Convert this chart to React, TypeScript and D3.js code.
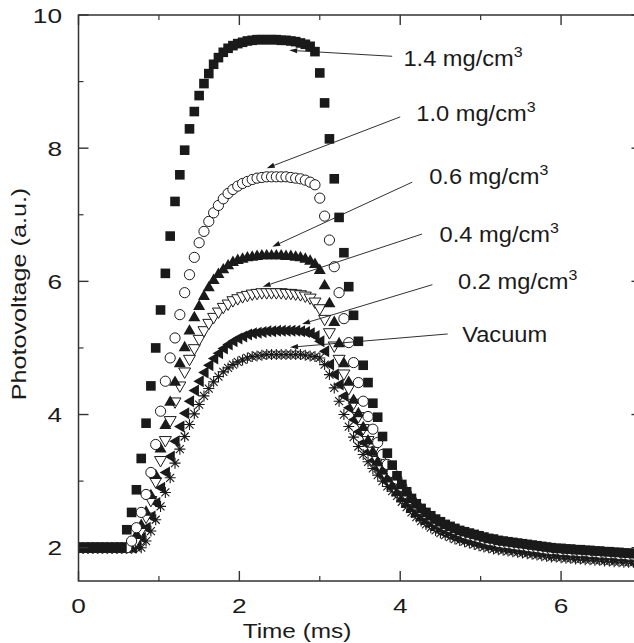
import React from 'react';
import * as d3 from 'd3';

// sampling interval of the recorded traces (ms)
const DT = 0.06;

const vacuum = [2,2,2,2,2,2,2,2,2,2,2,2,2,2,
2.1,2.25,2.42,2.62,2.83,3.05,
3.27,3.48,3.67,3.85,4.01,4.15,4.28,4.39,4.49,4.57,
4.64,4.7,4.75,4.79,4.82,4.85,4.87,4.88,4.89,4.9,
4.9,4.9,4.9,4.9,4.9,4.9,4.9,4.89,4.88,4.87,
4.85,4.75,4.6,4.4,4.2,4.0,3.82,3.66,3.52,3.4,
3.29,3.19,3.09,3.0,2.92,2.85,2.78,2.69,2.61,2.53,
2.46,2.4,2.35,2.3,2.26,2.22,2.19,2.16,2.13,2.11,
2.09,2.07,2.05,2.03,2.01,2.0,1.98,1.97,1.96,1.95,
1.94,1.93,1.92,1.91,1.9,1.89,1.88,1.87,1.86,1.86,
1.85,1.84,1.84,1.83,1.83,1.82,1.82,1.81,1.81,1.8,
1.8,1.79,1.79,1.78,1.78,1.78,1.77];

const dens02 = [2,2,2,2,2,2,2,2,2,2,2,2,
2.05,2.15,2.3,2.47,2.67,2.9,3.13,3.37,
3.6,3.82,4.02,4.2,4.36,4.5,4.63,4.74,4.84,4.92,
4.99,5.05,5.1,5.14,5.17,5.2,5.22,5.23,5.24,5.25,
5.25,5.26,5.26,5.26,5.26,5.26,5.25,5.24,5.22,5.18,
5.1,4.95,4.75,4.6,4.45,4.28,4.1,3.92,3.74,3.58,
3.44,3.31,3.19,3.08,2.98,2.89,2.8,2.71,2.63,2.56,
2.49,2.43,2.38,2.33,2.29,2.25,2.22,2.19,2.16,2.14,
2.12,2.1,2.08,2.06,2.05,2.03,2.02,2.01,2.0,1.99,
1.98,1.97,1.96,1.95,1.94,1.93,1.92,1.91,1.91,1.9,
1.89,1.89,1.88,1.88,1.87,1.87,1.86,1.86,1.85,1.85,
1.84,1.84,1.83,1.83,1.82,1.82,1.81];

const dens04 = [2,2,2,2,2,2,2,2,2,2,2,2,
2.1,2.25,2.45,2.7,2.98,3.3,3.6,3.9,
4.18,4.42,4.63,4.82,4.98,5.12,5.25,5.36,5.45,5.53,
5.6,5.65,5.7,5.73,5.76,5.78,5.8,5.81,5.82,5.82,
5.82,5.82,5.82,5.81,5.81,5.8,5.79,5.77,5.74,5.68,
5.58,5.42,5.22,5.02,4.82,4.6,4.38,4.16,3.96,3.78,
3.6,3.44,3.3,3.16,3.04,2.93,2.83,2.74,2.66,2.59,
2.52,2.46,2.41,2.36,2.32,2.28,2.25,2.22,2.2,2.18,
2.16,2.14,2.12,2.1,2.08,2.07,2.05,2.04,2.03,2.02,
2.01,2.0,1.99,1.98,1.97,1.96,1.95,1.94,1.94,1.93,
1.92,1.92,1.91,1.91,1.9,1.9,1.89,1.89,1.88,1.88,
1.87,1.87,1.86,1.86,1.85,1.85,1.84];

const dens06 = [2,2,2,2,2,2,2,2,2,2,2,2,
2.2,2.35,2.55,2.8,3.1,3.5,3.85,4.2,
4.5,4.78,5.02,5.27,5.47,5.64,5.79,5.92,6.03,6.12,
6.19,6.25,6.3,6.33,6.35,6.37,6.38,6.39,6.4,6.4,
6.4,6.4,6.4,6.39,6.39,6.38,6.37,6.35,6.32,6.27,
6.18,5.95,5.68,5.4,5.08,4.78,4.5,4.23,4.03,3.82,
3.62,3.45,3.3,3.17,3.05,2.94,2.84,2.75,2.67,2.6,
2.53,2.47,2.42,2.38,2.34,2.3,2.27,2.24,2.21,2.19,
2.17,2.15,2.13,2.11,2.09,2.08,2.06,2.05,2.04,2.03,
2.02,2.01,2.0,1.99,1.98,1.97,1.96,1.95,1.95,1.94,
1.93,1.93,1.92,1.92,1.91,1.91,1.9,1.9,1.89,1.89,
1.88,1.88,1.87,1.87,1.86,1.86,1.85];

const dens10 = [2,2,2,2,2,2,2,2,2,2,2,
2.1,2.3,2.53,2.8,3.13,3.55,4.05,4.5,4.85,
5.15,5.5,5.83,6.1,6.36,6.58,6.75,6.9,7.03,7.14,
7.24,7.32,7.38,7.43,7.47,7.5,7.53,7.55,7.56,7.57,
7.57,7.57,7.57,7.57,7.56,7.55,7.54,7.52,7.49,7.45,
7.25,6.98,6.62,6.22,5.83,5.44,5.08,4.78,4.48,4.2,
3.97,3.78,3.58,3.4,3.25,3.13,3.03,2.92,2.81,2.72,
2.64,2.57,2.51,2.46,2.41,2.37,2.33,2.3,2.27,2.24,
2.21,2.19,2.17,2.15,2.13,2.11,2.1,2.08,2.07,2.06,
2.05,2.04,2.03,2.02,2.01,2.0,1.99,1.98,1.97,1.97,
1.96,1.96,1.95,1.95,1.94,1.94,1.93,1.93,1.92,1.92,
1.91,1.91,1.9,1.9,1.89,1.89,1.88];

const dens14 = [2,2,2,2,2,2,2,2,2,2,
2.27,2.53,2.87,3.34,3.87,4.43,5.0,5.57,6.12,6.68,
7.2,7.6,7.97,8.29,8.55,8.79,8.97,9.12,9.26,9.36,
9.44,9.5,9.54,9.57,9.59,9.61,9.62,9.63,9.63,9.63,
9.63,9.63,9.62,9.62,9.61,9.6,9.58,9.56,9.53,9.45,
9.13,8.68,8.14,7.54,6.96,6.43,5.92,5.49,5.1,4.74,
4.48,4.17,3.96,3.67,3.42,3.24,3.08,2.95,2.84,2.74,
2.66,2.59,2.53,2.48,2.43,2.39,2.35,2.32,2.29,2.26,
2.24,2.22,2.2,2.18,2.16,2.14,2.13,2.11,2.1,2.09,
2.08,2.07,2.06,2.05,2.04,2.03,2.02,2.01,2.0,1.99,
1.99,1.98,1.98,1.97,1.97,1.96,1.96,1.95,1.95,1.94,
1.94,1.93,1.93,1.92,1.92,1.91,1.91];

const xMajor = [0, 2, 4, 6];
const xMinor = [1, 3, 5];
const yMajor = [2, 4, 6, 8, 10];
const yMinor = [3, 5, 7, 9];

const annLabels = ['1.4 mg/cm', '1.0 mg/cm', '0.6 mg/cm', '0.4 mg/cm', '0.2 mg/cm', 'Vacuum'];
const annSup = ['3', '3', '3', '3', '3', ''];
const annText = [[4.04, 9.23], [4.2, 8.41], [4.36, 7.46], [4.49, 6.59], [4.72, 5.89], [4.77, 5.09]];
const annStart = [[3.9, 9.38], [4.0, 8.47], [4.15, 7.49], [4.27, 6.71], [4.4, 5.95], [4.59, 5.21]];
const annTip = [[2.62, 9.47], [2.34, 7.7], [2.41, 6.52], [2.29, 5.92], [2.78, 5.36], [2.63, 5.01]];

const FONT = "'Liberation Sans', Arial, Helvetica, sans-serif";
const INK = '#1a1a1a';

type Shape = 'star' | 'left' | 'down' | 'up' | 'circle' | 'square';
const series: { values: number[]; shape: Shape }[] = [
  { values: vacuum, shape: 'star' },
  { values: dens02, shape: 'left' },
  { values: dens04, shape: 'down' },
  { values: dens06, shape: 'up' },
  { values: dens10, shape: 'circle' },
  { values: dens14, shape: 'square' },
];

function Marker({ shape, cx, cy }: { shape: Shape; cx: number; cy: number }) {
  const t = `translate(${cx},${cy})`;
  switch (shape) {
    case 'square':
      return <rect x={cx - 4.8} y={cy - 4.8} width={9.6} height={9.6} fill={INK} />;
    case 'circle':
      return <circle cx={cx} cy={cy} r={5.1} fill="#fff" stroke={INK} strokeWidth={1} />;
    case 'up':
      return <path transform={t} d="M0,-5.8L6,4.6L-6,4.6Z" fill={INK} />;
    case 'down':
      return <path transform={t} d="M0,5.8L6,-4.6L-6,-4.6Z" fill="#fff" stroke={INK} strokeWidth={1} />;
    case 'left':
      return <path transform={t} d="M-5.8,0L4.6,-6L4.6,6Z" fill={INK} />;
    default:
      return (
        <path transform={t} d="M-5.5,0H5.5M0,-5.5V5.5M-4,-4L4,4M-4,4L4,-4" stroke={INK} strokeWidth={1.1} fill="none" />
      );
  }
}

export default function App() {
  const W = 634, H = 643;
  const x = d3.scaleLinear().domain([0, 7]).range([78.5, 641.5]);
  const y = d3.scaleLinear().domain([1.5, 10]).range([581, 15]);
  const [x0, x1] = x.range();
  const [y0, y1] = y.range();
  const axisColor = '#333';

  return (
    <svg width={W} height={H} style={{ position: 'absolute', left: 0, top: 0, background: '#fff' }}>
      <defs>
        <clipPath id="plot">
          <rect x={x0} y={y1} width={x1 - x0} height={y0 - y1} />
        </clipPath>
      </defs>
      <rect width={W} height={H} fill="#fff" />

      {/* data */}
      <g clipPath="url(#plot)">
        {series.map((s, si) => (
          <g key={si}>
            {s.values.map((v, i) => (
              <Marker key={i} shape={s.shape} cx={x(i * DT)} cy={y(v)} />
            ))}
          </g>
        ))}
      </g>

      {/* frame */}
      <rect x={x0} y={y1} width={x1 - x0} height={y0 - y1} fill="none" stroke={axisColor} strokeWidth={1.5} />
      {xMajor.map((t) => (
        <g key={'xM' + t}>
          <line x1={x(t)} x2={x(t)} y1={y0} y2={y0 - 10} stroke={axisColor} strokeWidth={1.4} />
          <line x1={x(t)} x2={x(t)} y1={y1} y2={y1 + 10} stroke={axisColor} strokeWidth={1.4} />
          <text transform={`translate(${x(t)},613) scale(1.28,1)`} textAnchor="middle" fontFamily={FONT} fontSize={20.5} fill={INK}>
            {t}
          </text>
        </g>
      ))}
      {xMinor.map((t) => (
        <g key={'xm' + t}>
          <line x1={x(t)} x2={x(t)} y1={y0} y2={y0 - 5} stroke={axisColor} strokeWidth={1.2} />
          <line x1={x(t)} x2={x(t)} y1={y1} y2={y1 + 5} stroke={axisColor} strokeWidth={1.2} />
        </g>
      ))}
      {yMajor.map((v) => (
        <g key={'yM' + v}>
          <line x1={x0} x2={x0 + 10} y1={y(v)} y2={y(v)} stroke={axisColor} strokeWidth={1.4} />
          <line x1={x1} x2={x1 - 10} y1={y(v)} y2={y(v)} stroke={axisColor} strokeWidth={1.4} />
          <text transform={`translate(62,${y(v) + 7.5}) scale(1.28,1)`} textAnchor="end" fontFamily={FONT} fontSize={20.5} fill={INK}>
            {v}
          </text>
        </g>
      ))}
      {yMinor.map((v) => (
        <g key={'ym' + v}>
          <line x1={x0} x2={x0 + 5} y1={y(v)} y2={y(v)} stroke={axisColor} strokeWidth={1.2} />
          <line x1={x1} x2={x1 - 5} y1={y(v)} y2={y(v)} stroke={axisColor} strokeWidth={1.2} />
        </g>
      ))}

      {/* axis titles */}
      <text transform="translate(297,638) scale(1.25,1)" textAnchor="middle" fontFamily={FONT} fontSize={19.5} fill={INK}>
        Time (ms)
      </text>
      <text transform="translate(26,294) rotate(-90) scale(1.29,1)" textAnchor="middle" fontFamily={FONT} fontSize={19.5} fill={INK}>
        Photovoltage (a.u.)
      </text>

      {/* annotations */}
      {annLabels.map((lab, i) => {
        const sx = x(annStart[i][0]), sy = y(annStart[i][1]);
        const tx = x(annTip[i][0]), ty = y(annTip[i][1]);
        const ang = Math.atan2(sy - ty, sx - tx);
        const L = 8, Wd = 2.6;
        const bx = tx + L * Math.cos(ang), by = ty + L * Math.sin(ang);
        const px = -Math.sin(ang) * Wd, py = Math.cos(ang) * Wd;
        return (
          <g key={lab}>
            <line x1={sx} y1={sy} x2={bx} y2={by} stroke={INK} strokeWidth={0.9} />
            <path d={`M${tx},${ty}L${bx + px},${by + py}L${bx - px},${by - py}Z`} fill={INK} />
            <text transform={`translate(${x(annText[i][0])},${y(annText[i][1])}) scale(1.1,1)`} fontFamily={FONT} fontSize={21.5} fill={INK}>
              {lab}
              {annSup[i] && (
                <tspan fontSize={14.5} dy={-9}>
                  {annSup[i]}
                </tspan>
              )}
            </text>
          </g>
        );
      })}
    </svg>
  );
}
